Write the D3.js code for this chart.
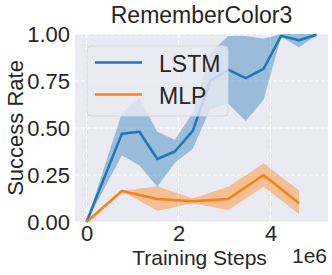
<!DOCTYPE html>
<html>
<head>
<meta charset="utf-8">
<script src="https://cdn.jsdelivr.net/npm/d3@7"></script>
<style>
  body { margin: 0; background: #fff; }
  text { font-family: "Liberation Sans", Arial, sans-serif; fill: #262626; }
</style>
</head>
<body>
<div id="chart"></div>
<script>
// training steps (x 1e6)
const lstmSteps = [0, 0.77, 1.15, 1.54, 1.92, 2.31, 2.69, 3.08, 3.46, 3.85, 4.23, 4.62, 5.0];
const lstmMean  = [0, 0.47, 0.48, 0.335, 0.375, 0.485, 0.75, 0.81, 0.765, 0.815, 0.99, 0.967, 0.996];
const lstmUpper = [0, 0.58, 0.66, 0.48, 0.437, 0.58, 0.90, 0.99, 0.99, 0.975, 1.0, 1.0, 1.0];
const lstmLower = [0, 0.355, 0.30, 0.188, 0.315, 0.39, 0.60, 0.63, 0.537, 0.65, 0.985, 0.93, 0.994];

const mlpSteps = [0, 0.77, 1.54, 2.31, 3.08, 3.85, 4.62];
const mlpMean  = [0, 0.165, 0.122, 0.11, 0.122, 0.25, 0.10];
const mlpUpper = [0, 0.165, 0.19, 0.125, 0.187, 0.312, 0.167];
const mlpLower = [0, 0.165, 0.06, 0.10, 0.063, 0.188, 0.043];

const xTicks = [0, 2, 4];
const yTicks = [0, 0.25, 0.5, 0.75, 1.0];
const seriesNames = ['LSTM', 'MLP'];
const colors = ['#1f77b4', '#ff7f0e'];

const W = 332, H = 275;
const plot = { left: 75, right: 328, top: 34, bottom: 222 };

const svg = d3.select('#chart').append('svg')
  .attr('width', W).attr('height', H);

const x = d3.scaleLinear().domain([-0.25, 5.25]).range([plot.left, plot.right]);
const y = d3.scaleLinear().domain([0, 1]).range([plot.bottom, plot.top]);

// background
svg.append('rect')
  .attr('x', plot.left).attr('y', plot.top)
  .attr('width', plot.right - plot.left).attr('height', plot.bottom - plot.top)
  .attr('fill', '#EAEAF2');

// grid
const grid = svg.append('g').attr('stroke', '#fff').attr('stroke-width', 1).attr('stroke-dasharray', '4,2');
grid.selectAll('.gx').data(xTicks).enter().append('line')
  .attr('x1', d => x(d)).attr('x2', d => x(d))
  .attr('y1', plot.top).attr('y2', plot.bottom);
grid.selectAll('.gy').data(yTicks).enter().append('line')
  .attr('x1', plot.left).attr('x2', plot.right)
  .attr('y1', d => y(d)).attr('y2', d => y(d));

// axes
const xAxis = svg.append('g')
  .attr('transform', `translate(0,${plot.bottom})`)
  .call(d3.axisBottom(x).tickValues(xTicks).tickFormat(d3.format('d')).tickSize(0).tickPadding(3));
const yAxis = svg.append('g')
  .attr('transform', `translate(${plot.left},0)`)
  .call(d3.axisLeft(y).tickValues(yTicks).tickFormat(d3.format('.2f')).tickSize(0).tickPadding(5));
[xAxis, yAxis].forEach(a => {
  a.select('.domain').remove();
  a.selectAll('text').attr('font-size', 22).attr('fill', '#262626')
    .style('font-family', '"Liberation Sans", Arial, sans-serif');
});

// series
const series = [
  { steps: lstmSteps, mean: lstmMean, upper: lstmUpper, lower: lstmLower },
  { steps: mlpSteps, mean: mlpMean, upper: mlpUpper, lower: mlpLower }
];

series.forEach((s, i) => {
  const pts = s.steps.map((t, j) => ({ t, m: s.mean[j], u: s.upper[j], l: s.lower[j] }));
  svg.append('path')
    .datum(pts)
    .attr('fill', colors[i]).attr('fill-opacity', 0.4)
    .attr('d', d3.area().x(d => x(d.t)).y0(d => y(d.l)).y1(d => y(d.u)));
  svg.append('path')
    .datum(pts)
    .attr('fill', 'none').attr('stroke', colors[i]).attr('stroke-width', 2.5)
    .attr('stroke-linejoin', 'round')
    .attr('d', d3.line().x(d => x(d.t)).y(d => y(d.m)));
});

// legend
const legend = svg.append('g');
legend.append('rect')
  .attr('x', 87).attr('y', 46).attr('width', 141).attr('height', 70).attr('rx', 4)
  .attr('fill', '#EAEAF2').attr('fill-opacity', 0.8)
  .attr('stroke', '#d5d5dc').attr('stroke-width', 1);
seriesNames.forEach((name, i) => {
  const ly = 62.5 + i * 32;
  legend.append('line')
    .attr('x1', 95).attr('x2', 142).attr('y1', ly).attr('y2', ly)
    .attr('stroke', colors[i]).attr('stroke-width', 2.5);
  legend.append('text')
    .attr('x', 159).attr('y', ly + 9)
    .attr('font-size', 23).text(name);
});

// titles
svg.append('text')
  .attr('x', (plot.left + plot.right) / 2).attr('y', 23)
  .attr('text-anchor', 'middle').attr('font-size', 23)
  .text('RememberColor3');
svg.append('text')
  .attr('x', (plot.left + plot.right) / 2 - 2).attr('y', 264.5)
  .attr('text-anchor', 'middle').attr('font-size', 21)
  .text('Training Steps');
svg.append('text')
  .attr('x', plot.right - 1).attr('y', 263)
  .attr('text-anchor', 'end').attr('font-size', 21)
  .text('1e6');
svg.append('text')
  .attr('transform', `translate(23,${(plot.top + plot.bottom) / 2}) rotate(-90)`)
  .attr('text-anchor', 'middle').attr('font-size', 22)
  .text('Success Rate');
</script>
</body>
</html>
